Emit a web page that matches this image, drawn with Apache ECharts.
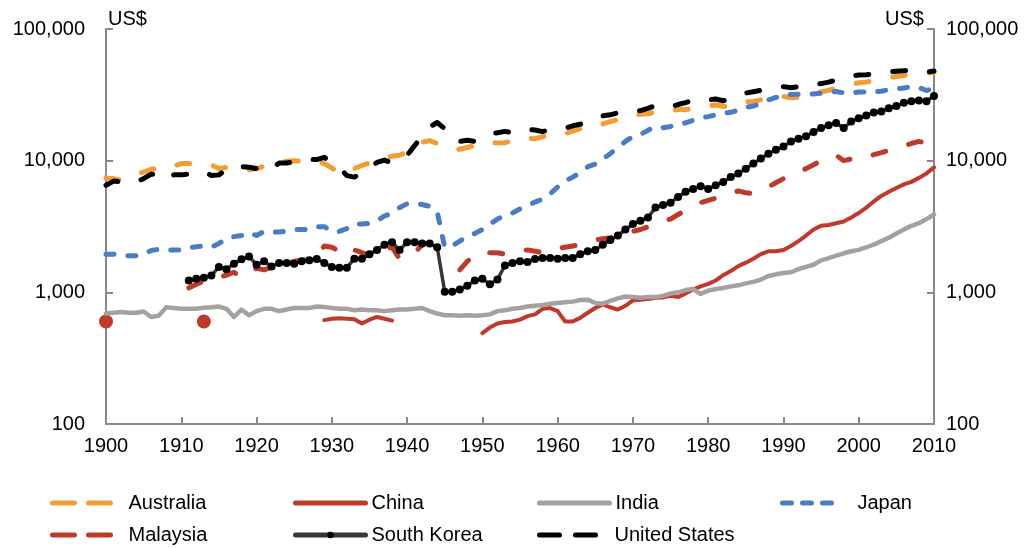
<!DOCTYPE html>
<html>
<head>
<meta charset="utf-8">
<script src="https://cdn.jsdelivr.net/npm/echarts@6/dist/echarts.min.js"></script>
<style>html,body{margin:0;padding:0;background:#fff}#c{width:1033px;height:548px}</style>
</head>
<body>
<div id="c"></div>
<script>
// ---- DATA (US$, GDP per capita), years 1900..2010 ----
const firstYear = 1900, lastYear = 2010;
const xTicks = [1900,1910,1920,1930,1940,1950,1960,1970,1980,1990,2000,2010];
const yTicks = [100, 1000, 10000, 100000];
const seriesNames = ['Australia','China','India','Japan','Malaysia','South Korea','United States'];

const australia = [
 7400,7300,7100,7500,7900,8200,8600,8700,8600,9100,
 9500,9500,9400,9500,9300,8700,8900,8800,8600,8500,
 8700,9100,9300,9600,9900,10000,9900,10000,9800,9500,
 8800,8000,8300,8700,9200,9600,10100,10500,10800,11000,
 11600,12800,13800,14200,13500,12800,12300,12200,12600,13000,
 13600,13800,13600,13700,14300,14700,14800,14700,15200,15800,
 16300,16000,16800,17500,18300,18800,19000,19800,20500,21300,
 22000,22500,22700,23500,23700,23800,24500,24400,25000,25800,
 26000,26500,25900,25500,27000,28000,28200,29000,30000,31000,
 30800,30000,30300,31300,32500,33300,34300,35300,36800,38300,
 39000,39500,40600,41500,42800,43600,44300,45700,46500,46200,46800];

const china = [
 600,null,null,null,null,null,null,null,null,null,
 null,null,null,600,null,null,null,null,null,null,
 null,null,null,null,null,null,null,null,null,615,
 630,635,630,625,580,620,650,630,610,null,
 null,null,null,null,null,null,null,null,null,null,
 490,540,580,595,600,620,660,680,750,760,
 720,600,600,640,700,760,810,770,740,790,
 870,880,890,910,915,940,920,980,1050,1110,
 1160,1230,1350,1450,1580,1680,1800,1950,2050,2050,
 2100,2250,2450,2700,3000,3200,3250,3350,3450,3700,
 4000,4400,4900,5400,5800,6200,6600,6900,7400,8000,8900];

const india = [
 690,700,710,700,700,715,650,665,770,760,
 750,750,750,765,770,780,750,650,740,670,
 720,750,750,720,740,760,760,760,780,775,
 760,750,750,730,740,730,730,720,730,740,
 740,750,760,720,690,670,670,665,670,665,
 670,680,720,730,750,760,780,790,800,820,
 830,840,850,875,880,830,820,860,900,930,
 920,910,920,920,940,980,1000,1040,1060,970,
 1030,1060,1080,1110,1130,1170,1200,1250,1330,1370,
 1400,1420,1500,1560,1620,1750,1820,1900,1980,2050,
 2100,2200,2300,2450,2600,2800,3000,3200,3350,3600,3900];

const japan = [
 1950,1950,1900,1900,1900,1950,2080,2120,2100,2100,
 2100,2180,2220,2250,2200,2350,2550,2650,2700,2850,
 2700,2900,2880,2870,2920,3000,3000,3000,3150,3150,
 2900,2900,3050,3300,3300,3350,3500,3800,4000,4400,
 4700,4700,4650,4500,4100,2200,2250,2450,2650,2800,
 3000,3300,3600,3850,4000,4300,4550,4850,5100,5600,
 6300,7000,7500,8100,9000,9400,10300,11300,12600,14000,
 15300,15800,17000,18200,17800,18200,18700,19400,20300,21200,
 21600,22300,22900,23300,24200,25400,26000,27100,28900,30200,
 31600,31800,32000,31900,32100,32600,33300,33500,32700,32500,
 33200,33200,33200,33700,34600,35100,35700,36400,36000,34100,35700];

const malaysia = [
 null,null,null,null,null,null,null,null,null,null,
 null,1080,1150,1220,1250,1300,1350,1420,1300,1450,
 1520,1480,1550,1600,1650,1720,1750,1780,1900,2250,
 2200,2050,1900,2100,2000,1900,2000,2100,2200,1800,
 1900,2000,2300,null,null,null,null,1480,1720,1900,
 2050,2000,2000,1950,2000,2050,2100,2050,2000,2050,
 2150,2200,2250,2300,2400,2500,2550,2600,2700,2850,
 2900,3000,3150,3300,3500,3600,3900,4200,4500,4800,
 5000,5200,5400,5600,5900,5700,5600,5900,6300,6800,
 7300,7800,8200,8700,9300,10000,10600,11000,10000,10300,
 10800,10700,11100,11500,12000,12500,12900,13500,14000,13600,14400];

const southKorea = [
 null,null,null,null,null,null,null,null,null,null,
 null,1230,1270,1290,1340,1560,1500,1650,1780,1870,
 1620,1720,1570,1670,1670,1650,1720,1750,1790,1670,
 1560,1540,1540,1800,1800,1950,2100,2300,2400,2100,
 2400,2400,2350,2350,2200,1010,1010,1050,1120,1230,
 1270,1150,1250,1600,1670,1720,1700,1790,1820,1820,
 1800,1820,1820,1950,2050,2100,2300,2500,2700,3000,
 3300,3500,3700,4400,4600,4800,5300,5800,6100,6400,
 6100,6500,6900,7500,8000,8700,9500,10400,11300,12100,
 12800,14000,14700,15300,16500,17700,18600,19300,17700,19800,
 21000,22000,23200,23600,25000,26000,27500,28300,28600,28300,31000];

const unitedStates = [
 6500,7000,6900,7100,6900,7300,7900,7900,7200,7800,
 7800,7900,8100,8300,7700,7800,8600,8400,9000,8900,
 8700,8200,8700,9600,9600,9800,10300,10200,10200,10600,
 9600,8900,7700,7500,8100,8700,9700,10100,9600,10300,
 11000,13000,15500,18000,19500,17500,14500,14000,14300,14000,
 15000,16000,16300,16700,16300,17200,17200,17100,16600,17400,
 17500,17600,18400,18900,19800,20800,21900,22300,23100,23600,
 23500,24000,25000,26200,25900,25500,26700,27600,28800,29300,
 28900,29400,28500,29700,31600,32600,33400,34200,35300,36200,
 36500,35800,36500,37000,38000,38500,39500,41000,42300,43500,
 44800,45000,45500,46200,47200,47800,48200,48600,48400,47000,48000];

// ---- helpers ----
function pairs(arr){ return arr.map((v,i)=>[firstYear+i, v]); }
function isolated(arr){
  const out=[];
  arr.forEach((v,i)=>{ if(v!=null && arr[i-1]==null && arr[i+1]==null) out.push([firstYear+i, v]); });
  return out;
}
const FONT = '"Liberation Sans", Arial, sans-serif';
const fmt = v => Math.round(v).toLocaleString('en-US');

const colors = {
  'Australia':'#F39E34','China':'#C0392B','India':'#A7A19E','Japan':'#4A7DC6',
  'Malaysia':'#C0392B','South Korea':'#3C3533','United States':'#000000'
};
const dashLong = [13, 24];
const dashShort = [8, 14];
const lineType = {
  'Australia':dashLong,'China':'solid','India':'solid','Japan':dashShort,
  'Malaysia':dashLong,'South Korea':'solid','United States':dashLong
};

function lineSeries(name, arr, width, z){
  return {
    name, type:'line', data: pairs(arr), symbol:'none', connectNulls:false,
    lineStyle:{color:colors[name], width, type:lineType[name], cap:'round', join:'round'},
    itemStyle:{color:colors[name]}, z, silent:true
  };
}

const series = [
  lineSeries('Australia', australia, 5, 2),
  lineSeries('China', china, 4, 3),
  lineSeries('India', india, 4.5, 4),
  lineSeries('Japan', japan, 5, 5),
  lineSeries('Malaysia', malaysia, 5, 6),
  {
    name:'South Korea', type:'line', data: pairs(southKorea), symbol:'circle', symbolSize:8,
    showSymbol:true, lineStyle:{color:colors['South Korea'], width:3.5},
    itemStyle:{color:'#000000', borderWidth:0, opacity:1}, z:7, silent:true
  },
  lineSeries('United States', unitedStates, 5, 8),
  {
    name:'China', type:'scatter', data: isolated(china), symbol:'circle', symbolSize:14,
    itemStyle:{color:colors['China'], opacity:1}, z:3, silent:true
  }
];

// legends: one per item for exact placement
const legendCols = [50, 293, 537, 780];
const legendRows = [493, 525];
const legendDash = {
  'Australia':[22,14], 'Malaysia':[22,14], 'United States':[20,16], 'Japan':[9,11],
  'China':'solid','India':'solid','South Korea':'solid'
};
const legends = seriesNames.map((n,i)=>{
  const sk = n==='South Korea';
  return {
    data:[n], left: legendCols[i%4], top: legendRows[Math.floor(i/4)],
    orient:'horizontal',
    itemWidth: (n==='Japan'?58:(n==='United States'?60:70)),
    itemHeight: sk?8:14,
    selectedMode:false, padding:0,
    lineStyle:{color:colors[n], width:5, type: legendDash[n], cap:'round'},
    itemStyle:{color:'#000', opacity: sk?1:0, borderWidth:0},
    textStyle:{fontSize:20, fontFamily:FONT, color:'#000', padding:[0,0,0,(n==='Japan'?12:(n==='United States'?10:1))]}
  };
});

const axisLineStyle = {color:'#898989', width:2};
const yCommon = {
  type:'log', logBase:10, min:100, max:100000,
  axisLine:{show:true, lineStyle:axisLineStyle},
  axisTick:{show:true, inside:true, length:7, lineStyle:axisLineStyle},
  splitLine:{show:false}, minorTick:{show:false},
  axisLabel:{fontSize:20, fontFamily:FONT, color:'#000', formatter: v => fmt(v)}
};

const chart = echarts.init(document.getElementById('c'), null, {renderer:'canvas'});
chart.setOption({
  animation:false,
  backgroundColor:'#fff',
  grid:{left:106, right:99, top:29, bottom:124, containLabel:false},
  xAxis:{
    type:'value', min:xTicks[0], max:xTicks[xTicks.length-1], interval:10,
    axisLine:{show:true, lineStyle:axisLineStyle, onZero:false},
    axisTick:{show:true, inside:true, length:7, lineStyle:axisLineStyle},
    splitLine:{show:false},
    axisLabel:{fontSize:20, fontFamily:FONT, color:'#000', margin:12, formatter: v => String(v)}
  },
  yAxis:[
    Object.assign({}, yCommon, {position:'left', axisLabel:Object.assign({}, yCommon.axisLabel, {margin:21})}),
    Object.assign({}, yCommon, {position:'right', axisLabel:Object.assign({}, yCommon.axisLabel, {margin:12})})
  ],
  legend: legends,
  graphic:[
    {type:'text', left:108, top:9, style:{text:'US$', font:'20px '+FONT, fill:'#000'}},
    {type:'text', left:885, top:9, style:{text:'US$', font:'20px '+FONT, fill:'#000'}}
  ],
  series
});
</script>
</body>
</html>
